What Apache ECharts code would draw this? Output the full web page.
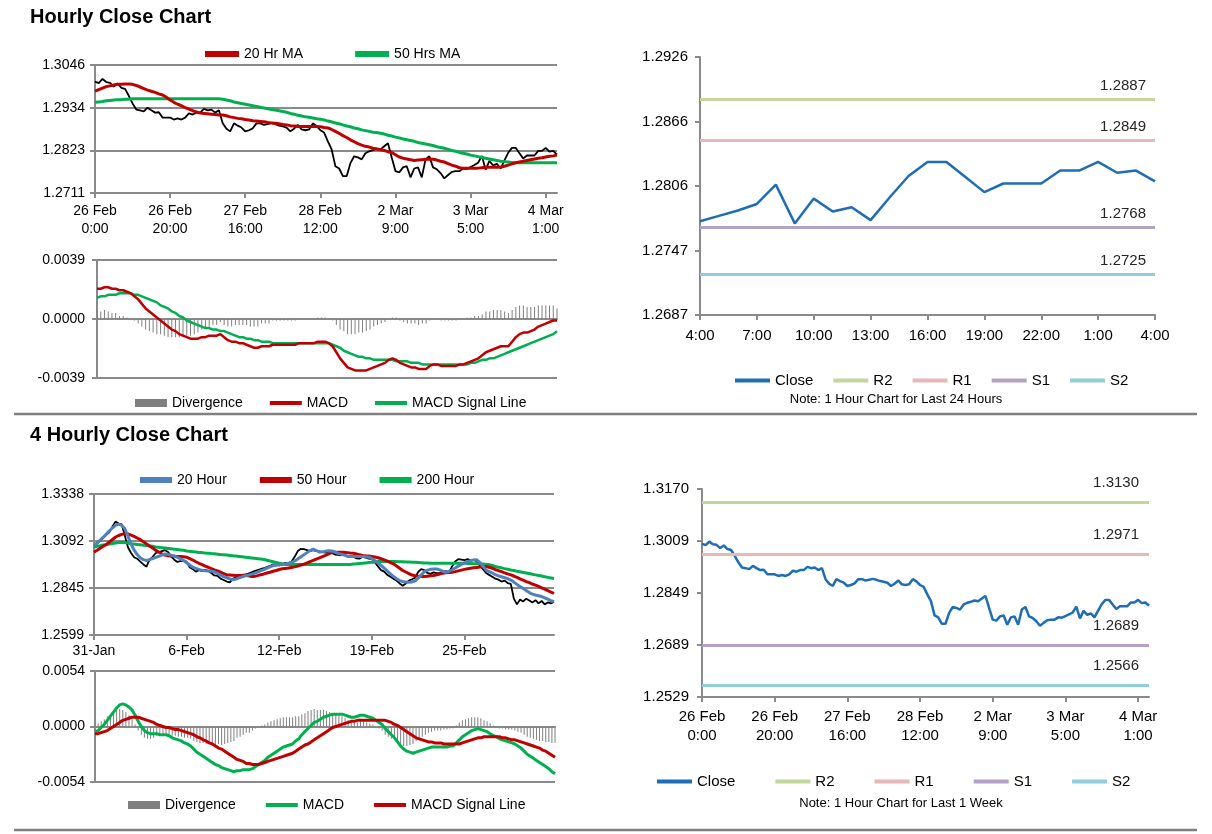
<!DOCTYPE html>
<html>
<head>
<meta charset="utf-8">
<script src="https://cdn.jsdelivr.net/npm/echarts@6/dist/echarts.min.js"></script>
<style>
  html, body { margin: 0; padding: 0; background: #fff; }
  #main { width: 1212px; height: 834px; }
</style>
</head>
<body>
<div id="main"></div>
<script>
// ---- hourly data (26 Feb 0:00 .. 4 Mar 3:00, weekend hours skipped) ----
var hourTicks = ['26 Feb\n0:00', '26 Feb\n20:00', '27 Feb\n16:00', '28 Feb\n12:00', '2 Mar\n9:00', '3 Mar\n5:00', '4 Mar\n1:00'];
var hourClose = [
  1.3002, 1.2998, 1.3009, 1.3001, 1.2999, 1.2989, 1.2997, 1.2986, 1.2983, 1.2965,
  1.2945, 1.2929, 1.2927, 1.2924, 1.2934, 1.2927, 1.2921, 1.2922, 1.2908, 1.2908,
  1.2908, 1.2903, 1.2906, 1.2903, 1.2908, 1.2919, 1.2916, 1.2921, 1.2921, 1.2931,
  1.2927, 1.2929, 1.2921, 1.2927, 1.2893, 1.2879, 1.2872, 1.2893, 1.2887, 1.2882,
  1.2872, 1.2875, 1.2880, 1.2893, 1.2893, 1.2889, 1.2891, 1.2894, 1.2891, 1.2887,
  1.2885, 1.2882, 1.2872, 1.2879, 1.2889, 1.2877, 1.2875, 1.2877, 1.2893, 1.2886,
  1.2875, 1.2869, 1.2846, 1.2825, 1.2781, 1.2775, 1.2755, 1.2755, 1.2789, 1.2807,
  1.2804, 1.2799, 1.2815, 1.2820, 1.2823, 1.2827, 1.2825, 1.2833, 1.2841, 1.2804,
  1.2768, 1.2765, 1.2778, 1.2781, 1.2752, 1.2775, 1.2778, 1.2752, 1.2799, 1.2807,
  1.2778, 1.2773, 1.2763, 1.2749, 1.2758, 1.2766, 1.2768, 1.2768, 1.2775, 1.2774,
  1.2779, 1.2784, 1.2790, 1.2808, 1.2772, 1.2795, 1.2783, 1.2787, 1.2775, 1.2796,
  1.2816, 1.2829, 1.2829, 1.2815, 1.2801, 1.2809, 1.2809, 1.2809, 1.2821, 1.2821,
  1.2829, 1.2819, 1.2821, 1.2811
];
var hourMA20 = [
  1.2977, 1.2981, 1.2985, 1.2989, 1.2991, 1.2993, 1.2995, 1.2995, 1.2996, 1.2996,
  1.2995, 1.2992, 1.2988, 1.2984, 1.2980, 1.2977, 1.2974, 1.2970, 1.2967, 1.2961,
  1.2954, 1.2948, 1.2943, 1.2939, 1.2934, 1.2930, 1.2926, 1.2923, 1.2920, 1.2919,
  1.2918, 1.2917, 1.2916, 1.2915, 1.2915, 1.2913, 1.2910, 1.2908, 1.2906, 1.2905,
  1.2903, 1.2902, 1.2900, 1.2899, 1.2898, 1.2897, 1.2895, 1.2894, 1.2893, 1.2892,
  1.2890, 1.2889, 1.2887, 1.2886, 1.2885, 1.2885, 1.2885, 1.2885, 1.2885, 1.2885,
  1.2884, 1.2882, 1.2881, 1.2877, 1.2872, 1.2867, 1.2861, 1.2856, 1.2850, 1.2845,
  1.2840, 1.2836, 1.2833, 1.2831, 1.2828, 1.2826, 1.2824, 1.2822, 1.2819, 1.2817,
  1.2811, 1.2805, 1.2802, 1.2800, 1.2798, 1.2796, 1.2797, 1.2798, 1.2799, 1.2800,
  1.2799, 1.2797, 1.2794, 1.2792, 1.2788, 1.2784, 1.2781, 1.2777, 1.2776, 1.2776,
  1.2776, 1.2776, 1.2776, 1.2777, 1.2778, 1.2778, 1.2778, 1.2778, 1.2779, 1.2781,
  1.2784, 1.2787, 1.2790, 1.2792, 1.2794, 1.2796, 1.2798, 1.2800, 1.2802, 1.2803,
  1.2805, 1.2807, 1.2808, 1.2810
];
var hourMA50 = [
  1.2948, 1.2949, 1.2950, 1.2952, 1.2953, 1.2954, 1.2955, 1.2955, 1.2956, 1.2956,
  1.2957, 1.2957, 1.2957, 1.2957, 1.2957, 1.2957, 1.2957, 1.2957, 1.2957, 1.2957,
  1.2957, 1.2957, 1.2957, 1.2957, 1.2957, 1.2957, 1.2957, 1.2957, 1.2957, 1.2957,
  1.2957, 1.2957, 1.2957, 1.2957, 1.2956, 1.2954, 1.2952, 1.2949, 1.2947, 1.2945,
  1.2943, 1.2941, 1.2939, 1.2937, 1.2935, 1.2933, 1.2931, 1.2929, 1.2928, 1.2926,
  1.2924, 1.2922, 1.2919, 1.2917, 1.2914, 1.2912, 1.2910, 1.2909, 1.2907, 1.2905,
  1.2904, 1.2902, 1.2899, 1.2897, 1.2894, 1.2892, 1.2889, 1.2886, 1.2884, 1.2881,
  1.2879, 1.2876, 1.2874, 1.2872, 1.2870, 1.2869, 1.2867, 1.2865, 1.2862, 1.2860,
  1.2857, 1.2855, 1.2852, 1.2850, 1.2848, 1.2846, 1.2843, 1.2841, 1.2839, 1.2837,
  1.2835, 1.2832, 1.2830, 1.2828, 1.2825, 1.2822, 1.2820, 1.2817, 1.2815, 1.2813,
  1.2810, 1.2808, 1.2806, 1.2804, 1.2802, 1.2800, 1.2798, 1.2796, 1.2794, 1.2793,
  1.2792, 1.2791, 1.2790, 1.2790, 1.2790, 1.2790, 1.2790, 1.2790, 1.2790, 1.2790,
  1.2790, 1.2790, 1.2790, 1.2790
];
var hourMACD = [
  0.0020, 0.0020, 0.0021, 0.0021, 0.0020, 0.0020, 0.0019, 0.0019, 0.0018, 0.0017,
  0.0015, 0.0013, 0.0010, 0.0007, 0.0005, 0.0003, 0.0001, -0.0001, -0.0003, -0.0005,
  -0.0007, -0.0008, -0.0010, -0.0011, -0.0012, -0.0013, -0.0013, -0.0013, -0.0012, -0.0012,
  -0.0011, -0.0011, -0.0011, -0.0010, -0.0012, -0.0014, -0.0015, -0.0015, -0.0016, -0.0016,
  -0.0017, -0.0018, -0.0019, -0.0019, -0.0018, -0.0018, -0.0018, -0.0017, -0.0017, -0.0017,
  -0.0017, -0.0017, -0.0017, -0.0017, -0.0016, -0.0016, -0.0016, -0.0016, -0.0016, -0.0015,
  -0.0015, -0.0015, -0.0016, -0.0018, -0.0022, -0.0026, -0.0029, -0.0032, -0.0033, -0.0034,
  -0.0034, -0.0034, -0.0034, -0.0033, -0.0032, -0.0031, -0.0030, -0.0029, -0.0027, -0.0026,
  -0.0027, -0.0029, -0.0030, -0.0031, -0.0032, -0.0032, -0.0033, -0.0033, -0.0033, -0.0031,
  -0.0030, -0.0030, -0.0031, -0.0031, -0.0031, -0.0031, -0.0031, -0.0030, -0.0030, -0.0029,
  -0.0028, -0.0027, -0.0026, -0.0024, -0.0022, -0.0021, -0.0020, -0.0019, -0.0018, -0.0018,
  -0.0018, -0.0015, -0.0012, -0.0010, -0.0009, -0.0009, -0.0008, -0.0007, -0.0005, -0.0004,
  -0.0003, -0.0002, -0.0001, -0.0001
];
var hourSignal = [
  0.0014, 0.0015, 0.0015, 0.0016, 0.0016, 0.0016, 0.0017, 0.0017, 0.0017, 0.0017,
  0.0016, 0.0016, 0.0015, 0.0014, 0.0013, 0.0012, 0.0011, 0.0009, 0.0008, 0.0007,
  0.0005, 0.0004, 0.0002, 0.0001, -0.0001, -0.0002, -0.0003, -0.0004, -0.0005, -0.0006,
  -0.0006, -0.0007, -0.0007, -0.0008, -0.0008, -0.0009, -0.0010, -0.0011, -0.0012, -0.0012,
  -0.0013, -0.0013, -0.0014, -0.0014, -0.0015, -0.0015, -0.0015, -0.0016, -0.0016, -0.0016,
  -0.0016, -0.0016, -0.0016, -0.0016, -0.0016, -0.0016, -0.0016, -0.0016, -0.0016, -0.0016,
  -0.0016, -0.0016, -0.0016, -0.0017, -0.0018, -0.0019, -0.0021, -0.0022, -0.0023, -0.0024,
  -0.0025, -0.0025, -0.0026, -0.0026, -0.0027, -0.0027, -0.0027, -0.0027, -0.0027, -0.0027,
  -0.0028, -0.0028, -0.0028, -0.0028, -0.0029, -0.0029, -0.0029, -0.0030, -0.0030, -0.0030,
  -0.0030, -0.0030, -0.0030, -0.0030, -0.0030, -0.0030, -0.0030, -0.0030, -0.0030, -0.0030,
  -0.0029, -0.0029, -0.0028, -0.0027, -0.0027, -0.0026, -0.0026, -0.0025, -0.0024, -0.0023,
  -0.0022, -0.0021, -0.0020, -0.0019, -0.0018, -0.0017, -0.0016, -0.0015, -0.0014, -0.0013,
  -0.0012, -0.0011, -0.0010, -0.0008
];
var hourDiv = [
  0.0006, 0.0005, 0.0006, 0.0005, 0.0004, 0.0004, 0.0002, 0.0002, 0.0001, 0.0000,
  -0.0001, -0.0003, -0.0005, -0.0007, -0.0008, -0.0009, -0.0010, -0.0010, -0.0011, -0.0012,
  -0.0012, -0.0012, -0.0012, -0.0012, -0.0011, -0.0011, -0.0010, -0.0009, -0.0007, -0.0006,
  -0.0005, -0.0004, -0.0004, -0.0002, -0.0004, -0.0005, -0.0005, -0.0004, -0.0004, -0.0004,
  -0.0004, -0.0005, -0.0005, -0.0005, -0.0003, -0.0003, -0.0003, -0.0001, -0.0001, -0.0001,
  -0.0001, -0.0001, -0.0001, -0.0001, 0.0000, 0.0000, 0.0000, 0.0000, 0.0000, 0.0001,
  0.0001, 0.0001, 0.0000, -0.0001, -0.0004, -0.0007, -0.0008, -0.0010, -0.0010, -0.0010,
  -0.0009, -0.0009, -0.0008, -0.0007, -0.0005, -0.0004, -0.0003, -0.0002, 0.0000, 0.0001,
  0.0001, -0.0001, -0.0002, -0.0003, -0.0003, -0.0003, -0.0004, -0.0003, -0.0003, -0.0001,
  0.0000, 0.0000, -0.0001, -0.0001, -0.0001, -0.0001, -0.0001, 0.0000, 0.0000, 0.0001,
  0.0001, 0.0002, 0.0002, 0.0003, 0.0005, 0.0005, 0.0006, 0.0006, 0.0006, 0.0005,
  0.0004, 0.0006, 0.0008, 0.0009, 0.0009, 0.0008, 0.0008, 0.0008, 0.0009, 0.0009,
  0.0009, 0.0009, 0.0009, 0.0007
];

// last 24 hours (3 Mar 4:00 .. 4 Mar 4:00)
var dayHours = ['4:00', '5:00', '6:00', '7:00', '8:00', '9:00', '10:00', '11:00', '12:00', '13:00',
  '14:00', '15:00', '16:00', '17:00', '18:00', '19:00', '20:00', '21:00', '22:00', '23:00',
  '0:00', '1:00', '2:00', '3:00', '4:00'];
var dayClose = hourClose.slice(-dayHours.length);

// ---- 4 hourly data ----
var fourTicks = ['31-Jan', '6-Feb', '12-Feb', '19-Feb', '25-Feb'];
var fourClose = [
  1.3069, 1.3080, 1.3096, 1.3110, 1.3125, 1.3140, 1.3170, 1.3195, 1.3185, 1.3180,
  1.3120, 1.3060, 1.3030, 1.3008, 1.3000, 1.2985, 1.2970, 1.2958, 1.2995, 1.3010,
  1.3030, 1.3035, 1.3040, 1.3045, 1.3035, 1.3012, 1.2995, 1.2983, 1.2988, 1.2990,
  1.2985, 1.2955, 1.2945, 1.2932, 1.2940, 1.2935, 1.2942, 1.2936, 1.2925, 1.2912,
  1.2910, 1.2895, 1.2888, 1.2880, 1.2876, 1.2895, 1.2903, 1.2910, 1.2915, 1.2918,
  1.2922, 1.2928, 1.2935, 1.2940, 1.2945, 1.2950, 1.2956, 1.2962, 1.2970, 1.2968,
  1.2965, 1.2972, 1.2978, 1.2975, 1.2985, 1.3010, 1.3040, 1.3052, 1.3050, 1.3045,
  1.3040, 1.3045, 1.3040, 1.3038, 1.3035, 1.3032, 1.3036, 1.3030, 1.3022, 1.3020,
  1.3018, 1.3025, 1.3012, 1.3008, 1.3010, 1.3002, 1.3000, 1.3010, 1.3005, 1.3000,
  1.2998, 1.2980, 1.2960, 1.2940, 1.2932, 1.2915, 1.2905, 1.2894, 1.2885, 1.2870,
  1.2858, 1.2870, 1.2885, 1.2892, 1.2900, 1.2930, 1.2945, 1.2940, 1.2925, 1.2920,
  1.2928, 1.2924, 1.2925, 1.2930, 1.2935, 1.2928, 1.2960, 1.2985, 1.2998, 1.2995,
  1.2992, 1.2998, 1.2990, 1.2995, 1.2985, 1.2965, 1.2945, 1.2925, 1.2915, 1.2905,
  1.2895, 1.2890, 1.2880, 1.2885, 1.2872, 1.2868, 1.2790, 1.2760, 1.2785, 1.2775,
  1.2790, 1.2780, 1.2770, 1.2782, 1.2765, 1.2778, 1.2760, 1.2770, 1.2765, 1.2774
];
var fourMA20 = [
  1.3069, 1.3083, 1.3098, 1.3113, 1.3130, 1.3147, 1.3162, 1.3175, 1.3182, 1.3175,
  1.3157, 1.3118, 1.3078, 1.3045, 1.3022, 1.3005, 1.2995, 1.2991, 1.2995, 1.3001,
  1.3007, 1.3013, 1.3019, 1.3025, 1.3023, 1.3019, 1.3014, 1.3007, 1.2999, 1.2991,
  1.2979, 1.2967, 1.2955, 1.2949, 1.2944, 1.2939, 1.2937, 1.2935, 1.2934, 1.2931,
  1.2923, 1.2914, 1.2906, 1.2900, 1.2894, 1.2889, 1.2893, 1.2899, 1.2905, 1.2910,
  1.2914, 1.2919, 1.2923, 1.2930, 1.2937, 1.2943, 1.2950, 1.2957, 1.2964, 1.2966,
  1.2968, 1.2969, 1.2973, 1.2977, 1.2981, 1.2988, 1.2999, 1.3010, 1.3021, 1.3032,
  1.3043, 1.3050, 1.3043, 1.3035, 1.3036, 1.3039, 1.3042, 1.3041, 1.3036, 1.3028,
  1.3024, 1.3019, 1.3014, 1.3012, 1.3012, 1.3012, 1.3012, 1.3011, 1.3010, 1.3008,
  1.3000, 1.2990, 1.2978, 1.2965, 1.2950, 1.2935, 1.2920, 1.2907, 1.2895, 1.2885,
  1.2880, 1.2877, 1.2876, 1.2878, 1.2883, 1.2898, 1.2915, 1.2932, 1.2940, 1.2944,
  1.2946, 1.2946, 1.2941, 1.2934, 1.2929, 1.2934, 1.2942, 1.2951, 1.2961, 1.2970,
  1.2978, 1.2985, 1.2990, 1.2993, 1.2994, 1.2980, 1.2960, 1.2940, 1.2932, 1.2925,
  1.2916, 1.2910, 1.2905, 1.2900, 1.2895, 1.2888, 1.2877, 1.2865, 1.2853, 1.2844,
  1.2833, 1.2822, 1.2814, 1.2809, 1.2805, 1.2801, 1.2794, 1.2787, 1.2780, 1.2774
];
var fourMA50 = [
  1.3034, 1.3044, 1.3055, 1.3065, 1.3075, 1.3088, 1.3101, 1.3114, 1.3122, 1.3128,
  1.3131, 1.3130, 1.3124, 1.3117, 1.3109, 1.3100, 1.3089, 1.3078, 1.3067, 1.3056,
  1.3044, 1.3035, 1.3026, 1.3019, 1.3016, 1.3014, 1.3013, 1.3012, 1.3011, 1.3010,
  1.3008, 1.3001, 1.2993, 1.2984, 1.2976, 1.2969, 1.2961, 1.2955, 1.2948, 1.2941,
  1.2936, 1.2929, 1.2922, 1.2915, 1.2914, 1.2913, 1.2912, 1.2912, 1.2912, 1.2912,
  1.2910, 1.2907, 1.2907, 1.2911, 1.2916, 1.2920, 1.2925, 1.2929, 1.2934, 1.2938,
  1.2943, 1.2947, 1.2949, 1.2951, 1.2954, 1.2957, 1.2961, 1.2966, 1.2972, 1.2978,
  1.2985, 1.2991, 1.2998, 1.3004, 1.3011, 1.3018, 1.3025, 1.3032, 1.3034, 1.3034,
  1.3034, 1.3034, 1.3032, 1.3030, 1.3029, 1.3025, 1.3021, 1.3017, 1.3015, 1.3014,
  1.3012, 1.3009, 1.3005, 1.3000, 1.2994, 1.2987, 1.2980, 1.2973, 1.2962, 1.2950,
  1.2938, 1.2930, 1.2922, 1.2914, 1.2910, 1.2908, 1.2906, 1.2906, 1.2908, 1.2910,
  1.2912, 1.2916, 1.2920, 1.2924, 1.2926, 1.2927, 1.2929, 1.2932, 1.2936, 1.2940,
  1.2944, 1.2947, 1.2950, 1.2952, 1.2954, 1.2956, 1.2958, 1.2959, 1.2955, 1.2950,
  1.2943, 1.2937, 1.2932, 1.2926, 1.2920, 1.2915, 1.2909, 1.2902, 1.2894, 1.2887,
  1.2880, 1.2874, 1.2867, 1.2861, 1.2854, 1.2847, 1.2840, 1.2832, 1.2825, 1.2817
];
var fourMA200 = [
  1.3061, 1.3065, 1.3068, 1.3072, 1.3075, 1.3077, 1.3080, 1.3082, 1.3085, 1.3087,
  1.3085, 1.3082, 1.3079, 1.3077, 1.3075, 1.3073, 1.3071, 1.3069, 1.3067, 1.3065,
  1.3062, 1.3060, 1.3058, 1.3056, 1.3054, 1.3052, 1.3050, 1.3048, 1.3046, 1.3044,
  1.3041, 1.3039, 1.3037, 1.3035, 1.3033, 1.3032, 1.3030, 1.3029, 1.3027, 1.3026,
  1.3024, 1.3022, 1.3021, 1.3019, 1.3017, 1.3015, 1.3014, 1.3012, 1.3010, 1.3008,
  1.3006, 1.3004, 1.3002, 1.3000, 1.2998, 1.2996, 1.2992, 1.2988, 1.2984, 1.2980,
  1.2976, 1.2973, 1.2970, 1.2969, 1.2969, 1.2969, 1.2969, 1.2969, 1.2969, 1.2969,
  1.2969, 1.2969, 1.2969, 1.2969, 1.2969, 1.2969, 1.2969, 1.2969, 1.2969, 1.2969,
  1.2969, 1.2969, 1.2969, 1.2970, 1.2972, 1.2973, 1.2975, 1.2976, 1.2978, 1.2980,
  1.2981, 1.2983, 1.2985, 1.2985, 1.2985, 1.2985, 1.2985, 1.2985, 1.2985, 1.2984,
  1.2984, 1.2983, 1.2983, 1.2982, 1.2981, 1.2980, 1.2979, 1.2978, 1.2977, 1.2976,
  1.2976, 1.2976, 1.2976, 1.2976, 1.2976, 1.2976, 1.2976, 1.2976, 1.2976, 1.2976,
  1.2976, 1.2975, 1.2975, 1.2974, 1.2974, 1.2973, 1.2972, 1.2970, 1.2969, 1.2964,
  1.2959, 1.2955, 1.2952, 1.2948, 1.2945, 1.2941, 1.2938, 1.2934, 1.2931, 1.2928,
  1.2925, 1.2922, 1.2918, 1.2915, 1.2912, 1.2909, 1.2905, 1.2902, 1.2899, 1.2896
];
var fourMACD = [
  -0.0005, -0.0004, -0.0001, 0.0002, 0.0006, 0.0010, 0.0014, 0.0018, 0.0021, 0.0022,
  0.0021, 0.0019, 0.0016, 0.0011, 0.0005, 0.0000, -0.0004, -0.0006, -0.0007, -0.0007,
  -0.0007, -0.0008, -0.0008, -0.0008, -0.0009, -0.0011, -0.0012, -0.0013, -0.0014, -0.0016,
  -0.0017, -0.0019, -0.0022, -0.0025, -0.0027, -0.0029, -0.0031, -0.0033, -0.0035, -0.0037,
  -0.0038, -0.0040, -0.0041, -0.0042, -0.0043, -0.0044, -0.0043, -0.0043, -0.0042, -0.0042,
  -0.0042, -0.0041, -0.0039, -0.0037, -0.0035, -0.0033, -0.0030, -0.0028, -0.0026, -0.0024,
  -0.0022, -0.0020, -0.0019, -0.0018, -0.0017, -0.0014, -0.0012, -0.0008, -0.0005, -0.0002,
  0.0001, 0.0004, 0.0005, 0.0007, 0.0009, 0.0010, 0.0011, 0.0012, 0.0012, 0.0012,
  0.0012, 0.0011, 0.0010, 0.0009, 0.0009, 0.0010, 0.0011, 0.0011, 0.0010, 0.0009,
  0.0008, 0.0006, 0.0004, 0.0002, -0.0002, -0.0005, -0.0008, -0.0011, -0.0015, -0.0019,
  -0.0022, -0.0024, -0.0025, -0.0026, -0.0025, -0.0024, -0.0023, -0.0022, -0.0021, -0.0020,
  -0.0020, -0.0020, -0.0020, -0.0020, -0.0020, -0.0019, -0.0019, -0.0016, -0.0013, -0.0010,
  -0.0008, -0.0006, -0.0004, -0.0003, -0.0002, -0.0003, -0.0004, -0.0005, -0.0007, -0.0009,
  -0.0010, -0.0012, -0.0013, -0.0014, -0.0015, -0.0016, -0.0017, -0.0019, -0.0021, -0.0024,
  -0.0027, -0.0029, -0.0031, -0.0033, -0.0035, -0.0037, -0.0039, -0.0041, -0.0044, -0.0046
];
var fourSignal = [
  -0.0007, -0.0007, -0.0006, -0.0005, -0.0004, -0.0002, 0.0000, 0.0002, 0.0004, 0.0006,
  0.0007, 0.0008, 0.0009, 0.0009, 0.0009, 0.0008, 0.0007, 0.0006, 0.0005, 0.0004,
  0.0002, 0.0001, 0.0000, -0.0001, -0.0001, -0.0002, -0.0003, -0.0003, -0.0004, -0.0005,
  -0.0006, -0.0007, -0.0008, -0.0010, -0.0011, -0.0013, -0.0014, -0.0016, -0.0017, -0.0019,
  -0.0021, -0.0022, -0.0024, -0.0026, -0.0028, -0.0030, -0.0032, -0.0033, -0.0034, -0.0036,
  -0.0036, -0.0037, -0.0037, -0.0037, -0.0036, -0.0035, -0.0034, -0.0033, -0.0032, -0.0031,
  -0.0030, -0.0029, -0.0028, -0.0027, -0.0026, -0.0024, -0.0022, -0.0020, -0.0018, -0.0017,
  -0.0015, -0.0013, -0.0011, -0.0009, -0.0007, -0.0005, -0.0003, -0.0001, 0.0000, 0.0001,
  0.0002, 0.0003, 0.0004, 0.0005, 0.0005, 0.0006, 0.0006, 0.0006, 0.0006, 0.0006,
  0.0006, 0.0006, 0.0006, 0.0006, 0.0006, 0.0005, 0.0004, 0.0002, 0.0001, -0.0001,
  -0.0003, -0.0005, -0.0007, -0.0009, -0.0011, -0.0012, -0.0013, -0.0014, -0.0015, -0.0015,
  -0.0016, -0.0016, -0.0016, -0.0017, -0.0017, -0.0017, -0.0017, -0.0017, -0.0017, -0.0016,
  -0.0015, -0.0014, -0.0013, -0.0012, -0.0011, -0.0011, -0.0010, -0.0010, -0.0010, -0.0010,
  -0.0010, -0.0010, -0.0011, -0.0011, -0.0012, -0.0013, -0.0013, -0.0014, -0.0015, -0.0016,
  -0.0017, -0.0018, -0.0019, -0.0020, -0.0021, -0.0023, -0.0024, -0.0026, -0.0028, -0.0030
];
var fourDiv = [
  0.0002, 0.0003, 0.0005, 0.0007, 0.0010, 0.0012, 0.0014, 0.0016, 0.0017, 0.0016,
  0.0014, 0.0011, 0.0007, 0.0002, -0.0004, -0.0008, -0.0011, -0.0012, -0.0012, -0.0011,
  -0.0009, -0.0009, -0.0008, -0.0007, -0.0008, -0.0009, -0.0009, -0.0010, -0.0010, -0.0011,
  -0.0011, -0.0012, -0.0014, -0.0015, -0.0016, -0.0016, -0.0017, -0.0017, -0.0018, -0.0018,
  -0.0017, -0.0018, -0.0017, -0.0016, -0.0015, -0.0014, -0.0011, -0.0010, -0.0008, -0.0006,
  -0.0006, -0.0004, -0.0002, 0.0000, 0.0001, 0.0002, 0.0004, 0.0005, 0.0006, 0.0007,
  0.0008, 0.0009, 0.0009, 0.0009, 0.0009, 0.0010, 0.0010, 0.0012, 0.0013, 0.0015,
  0.0016, 0.0017, 0.0016, 0.0016, 0.0016, 0.0015, 0.0014, 0.0013, 0.0012, 0.0011,
  0.0010, 0.0008, 0.0006, 0.0004, 0.0004, 0.0004, 0.0005, 0.0005, 0.0004, 0.0003,
  0.0002, 0.0000, -0.0002, -0.0004, -0.0008, -0.0010, -0.0012, -0.0013, -0.0016, -0.0018,
  -0.0019, -0.0019, -0.0018, -0.0017, -0.0014, -0.0012, -0.0010, -0.0008, -0.0006, -0.0005,
  -0.0004, -0.0004, -0.0004, -0.0003, -0.0003, -0.0002, -0.0002, 0.0001, 0.0004, 0.0006,
  0.0007, 0.0008, 0.0009, 0.0009, 0.0009, 0.0008, 0.0006, 0.0005, 0.0003, 0.0001,
  0.0000, -0.0002, -0.0002, -0.0003, -0.0003, -0.0003, -0.0004, -0.0005, -0.0006, -0.0008,
  -0.0010, -0.0011, -0.0012, -0.0013, -0.0014, -0.0014, -0.0015, -0.0015, -0.0016, -0.0016
];

// pivot levels
var levelNames = ['R2', 'R1', 'S1', 'S2'];
var levelColors = ['#c3d69b', '#e6b9b8', '#b3a2c7', '#93cddd'];
var dayLevels = [1.2887, 1.2849, 1.2768, 1.2725];
var weekLevels = [1.3130, 1.2971, 1.2689, 1.2566];

// axis tick labels
var hourPriceTicks = ['1.2711', '1.2823', '1.2934', '1.3046'];
var hourMacdTicks = ['-0.0039', '0.0000', '0.0039'];
var dayPriceTicks = ['1.2687', '1.2747', '1.2806', '1.2866', '1.2926'];
var fourPriceTicks = ['1.2599', '1.2845', '1.3092', '1.3338'];
var fourMacdTicks = ['-0.0054', '0.0000', '0.0054'];
var weekPriceTicks = ['1.2529', '1.2689', '1.2849', '1.3009', '1.3170'];

var hourCats = hourClose.map(function (v, i) { return i % 20 === 0 ? hourTicks[i / 20] : ''; });
var fourCats = fourClose.map(function (v, i) { return i % 30 === 0 ? fourTicks[i / 30] : ''; });

var FONT = '"Liberation Sans", Arial, sans-serif';
var GREY = '#8a8a8a';

function nearestLabel(labels, v) {
  var best = labels[0];
  labels.forEach(function (l) {
    if (Math.abs(+l - v) < Math.abs(+best - v)) best = l;
  });
  return best;
}

// value axis whose ticks land on the printed labels (min kept a multiple of interval)
function valueAxis(grid, labels, opts) {
  var lo = +labels[0], n = labels.length - 1;
  var step = (+labels[n] - lo) / n;
  step = lo / Math.round(lo / step);
  return {
    type: 'value', gridIndex: grid, min: lo, max: lo + n * step, interval: step,
    axisLine: { show: true, lineStyle: { color: GREY, width: 2 } },
    axisTick: { show: true, length: 5, lineStyle: { color: GREY, width: 2 } },
    axisLabel: {
      color: '#000', fontFamily: FONT, fontSize: opts.fontSize, margin: opts.margin,
      formatter: function (v) { return nearestLabel(labels, v); }
    },
    splitLine: { show: opts.split, lineStyle: { color: GREY, width: 2 } }
  };
}

function catAxis(grid, cats, every, opts) {
  return {
    type: 'category', gridIndex: grid, data: cats, boundaryGap: false,
    axisLine: { onZero: true, lineStyle: { color: GREY, width: 2 } },
    axisTick: { show: opts.labels, interval: every - 1, length: 5, lineStyle: { color: GREY, width: 2 } },
    axisLabel: {
      show: opts.labels, interval: every - 1, color: '#000', fontFamily: FONT,
      fontSize: opts.fontSize, lineHeight: opts.lineHeight, margin: opts.margin
    },
    splitLine: { show: false }
  };
}

function line(name, axis, data, color, width) {
  return {
    name: name, type: 'line', xAxisIndex: axis, yAxisIndex: axis, data: data,
    color: color, symbol: 'none', lineStyle: { color: color, width: width }, z: 3
  };
}

function bars(name, axis, data) {
  return {
    name: name, type: 'bar', xAxisIndex: axis, yAxisIndex: axis, data: data,
    color: '#7f7f7f', barWidth: 1, itemStyle: { color: '#7f7f7f' }, z: 2
  };
}

function level(i, suffix, axis, values, dist) {
  return {
    name: levelNames[i] + suffix, type: 'line', xAxisIndex: axis, yAxisIndex: axis, data: [],
    color: levelColors[i], symbol: 'none', lineStyle: { color: levelColors[i], width: 3 },
    markLine: {
      silent: true, symbol: 'none', animation: false, precision: 4,
      lineStyle: { color: levelColors[i], width: 3, type: 'solid' },
      label: {
        position: 'insideEndTop', distance: dist, color: '#262626',
        fontFamily: FONT, fontSize: 15, formatter: values[i].toFixed(4)
      },
      data: [{ yAxis: values[i] }]
    }
  };
}

function legend(names, left, top, gap, width, fontSize, thick) {
  var lineIcon = 'path://M0 0H' + width + 'V' + thick + 'H0Z';
  return {
    left: left, top: top, padding: 0, itemGap: gap, itemWidth: width, itemHeight: 8,
    textStyle: { color: '#000', fontFamily: FONT, fontSize: fontSize },
    formatter: function (n) { return n.trim(); },
    data: names.map(function (n) {
      return { name: n, icon: n.trim() === 'Divergence' ? 'rect' : lineIcon };
    })
  };
}

var myChart = echarts.init(document.getElementById('main'));

var option = {
  animation: false,
  backgroundColor: '#fff',
  title: [
    { text: 'Hourly Close Chart', left: 30, top: 7, padding: 0, textStyle: { fontFamily: FONT, fontSize: 20, fontWeight: 'bold', color: '#000' } },
    { text: '4 Hourly Close Chart', left: 30, top: 425, padding: 0, textStyle: { fontFamily: FONT, fontSize: 20, fontWeight: 'bold', color: '#000' } }
  ],
  graphic: [
    { type: 'line', shape: { x1: 14, y1: 414, x2: 1197, y2: 414 }, style: { stroke: '#808080', lineWidth: 2.5 } },
    { type: 'line', shape: { x1: 14, y1: 830, x2: 1197, y2: 830 }, style: { stroke: '#808080', lineWidth: 2.5 } },
    { type: 'text', x: 896, y: 399, style: { text: 'Note: 1 Hour Chart for Last 24 Hours', fill: '#000', font: '13px ' + FONT, textAlign: 'center', textVerticalAlign: 'middle' } },
    { type: 'text', x: 901, y: 803, style: { text: 'Note: 1 Hour Chart for Last 1 Week', fill: '#000', font: '13px ' + FONT, textAlign: 'center', textVerticalAlign: 'middle' } }
  ],
  legend: [
    legend(['20 Hr MA', '50 Hrs MA'], 205, 47, 52, 34, 14, 6),
    legend(['Divergence', 'MACD', 'MACD Signal Line'], 135, 396, 27, 32, 14, 4),
    legend(['Close', 'R2', 'R1', 'S1', 'S2'], 735, 373, 20, 35, 15, 4),
    legend(['20 Hour', '50 Hour', '200 Hour'], 140, 473, 33, 32, 14, 6),
    legend(['Divergence ', 'MACD ', 'MACD Signal Line '], 128, 798, 30, 32, 14, 4),
    legend(['Close ', 'R2 ', 'R1 ', 'S1 ', 'S2 '], 657, 774, 40, 35, 15, 4)
  ],
  grid: [
    { left: 95, top: 65, width: 462, height: 128 },
    { left: 97, top: 260, width: 460, height: 118 },
    { left: 700, top: 57, width: 455, height: 258 },
    { left: 94, top: 494, width: 460, height: 141 },
    { left: 95, top: 671, width: 460, height: 111 },
    { left: 702, top: 489, width: 447, height: 208 }
  ],
  xAxis: [
    catAxis(0, hourCats, 20, { labels: true, fontSize: 14, lineHeight: 18, margin: 9 }),
    catAxis(1, hourCats, 20, { labels: false }),
    catAxis(2, dayHours, 3, { labels: true, fontSize: 15, lineHeight: 18, margin: 12 }),
    catAxis(3, fourCats, 30, { labels: true, fontSize: 14, lineHeight: 16, margin: 8 }),
    catAxis(4, fourCats, 30, { labels: false }),
    catAxis(5, hourCats, 20, { labels: true, fontSize: 15, lineHeight: 19, margin: 10 })
  ],
  yAxis: [
    valueAxis(0, hourPriceTicks, { fontSize: 14, margin: 10, split: true }),
    valueAxis(1, hourMacdTicks, { fontSize: 14, margin: 12, split: true }),
    valueAxis(2, dayPriceTicks, { fontSize: 15, margin: 12, split: false }),
    valueAxis(3, fourPriceTicks, { fontSize: 14, margin: 10, split: true }),
    valueAxis(4, fourMacdTicks, { fontSize: 14, margin: 10, split: true }),
    valueAxis(5, weekPriceTicks, { fontSize: 15, margin: 13, split: false })
  ],
  series: [
    // hourly close with moving averages
    line('Hourly Close', 0, hourClose, '#000000', 1.8),
    line('50 Hrs MA', 0, hourMA50, '#00b050', 3),
    line('20 Hr MA', 0, hourMA20, '#c00000', 3),
    // hourly MACD
    bars('Divergence', 1, hourDiv),
    line('MACD Signal Line', 1, hourSignal, '#00b050', 2.5),
    line('MACD', 1, hourMACD, '#c00000', 2.5),
    // last 24 hours with pivots
    level(0, '', 2, dayLevels, [9, 6]),
    level(1, '', 2, dayLevels, [9, 6]),
    level(2, '', 2, dayLevels, [9, 6]),
    level(3, '', 2, dayLevels, [9, 6]),
    line('Close', 2, dayClose, '#1f6db5', 2.5),
    // 4 hourly close with moving averages
    line('4 Hourly Close', 3, fourClose, '#000000', 1.8),
    line('200 Hour', 3, fourMA200, '#00b050', 3),
    line('50 Hour', 3, fourMA50, '#c00000', 3),
    line('20 Hour', 3, fourMA20, '#4f81bd', 3),
    // 4 hourly MACD
    bars('Divergence ', 4, fourDiv),
    line('MACD ', 4, fourMACD, '#00b050', 3),
    line('MACD Signal Line ', 4, fourSignal, '#c00000', 3),
    // last week hourly with pivots
    level(0, ' ', 5, weekLevels, [10, 12]),
    level(1, ' ', 5, weekLevels, [10, 12]),
    level(2, ' ', 5, weekLevels, [10, 12]),
    level(3, ' ', 5, weekLevels, [10, 12]),
    line('Close ', 5, hourClose, '#1f6db5', 2.5)
  ]
};

myChart.setOption(option);
</script>
</body>
</html>
